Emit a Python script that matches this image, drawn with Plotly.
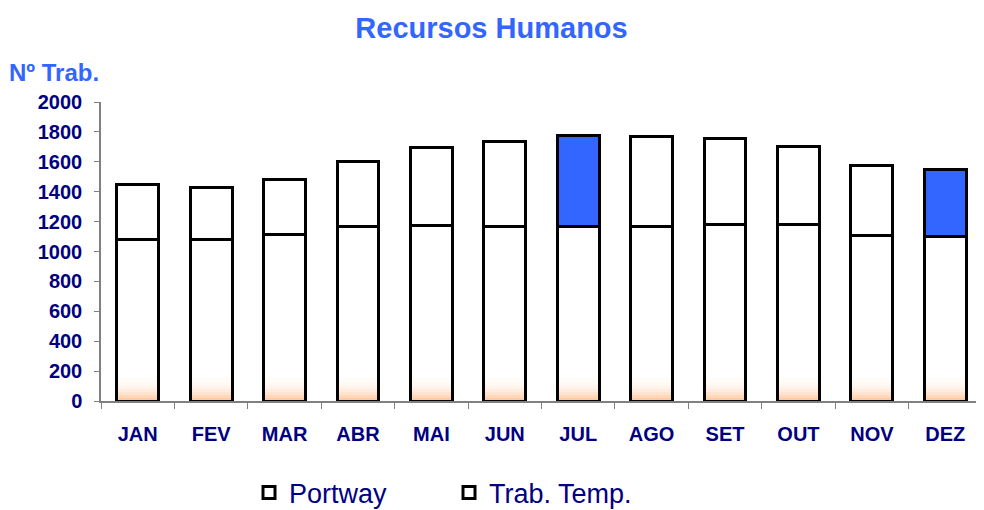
import plotly.graph_objects as go

# Data
months = ['JAN', 'FEV', 'MAR', 'ABR', 'MAI', 'JUN', 'JUL', 'AGO', 'SET', 'OUT', 'NOV', 'DEZ']
portway = [1079, 1083, 1115, 1170, 1175, 1170, 1170, 1170, 1180, 1180, 1108, 1102]
total = [1445, 1429, 1483, 1603, 1697, 1735, 1773, 1766, 1757, 1701, 1572, 1547]
trab_temp = [t - p for t, p in zip(total, portway)]
highlight = ['JUL', 'DEZ']

NAVY = '#000080'
BLUE = '#3366FF'
FONT = 'Liberation Sans, Arial, sans-serif'

# soft peach shading at the foot of each bar (styling only)
shade_levels = [1.0, 0.86, 0.72, 0.59, 0.47, 0.36, 0.26, 0.17, 0.09, 0.03]
shade_rows = [10, 30, 50, 70, 90, 110, 130, 150, 170, 190]

temp_colors = [BLUE if m in highlight else 'white' for m in months]

fig = go.Figure()

fig.add_trace(go.Heatmap(
    x=months, y=shade_rows,
    z=[[s] * len(months) for s in shade_levels],
    colorscale=[[0, 'rgba(255,255,255,0)'], [1, '#FFC9A3']],
    zmin=0, zmax=1, showscale=False, xgap=31, hoverinfo='skip',
))

fig.add_trace(go.Bar(
    x=months, y=portway, name='Portway',
    marker=dict(color='rgba(0,0,0,0)', line=dict(color='black', width=3)),
    width=0.57,
))
fig.add_trace(go.Bar(
    x=months, y=trab_temp, name='Trab. Temp.',
    marker=dict(color=temp_colors, line=dict(color='black', width=3)),
    width=0.57,
))

# the page body adds an 8px margin, so the figure is 8px smaller each way
fig.update_layout(
    width=976, height=502,
    barmode='stack',
    plot_bgcolor='white', paper_bgcolor='white',
    margin=dict(l=93, r=2, t=94, b=109, autoexpand=False),
    font=dict(family=FONT, color=NAVY),
    title=dict(text='Recursos Humanos', x=0.4954, xanchor='center', y=1 - 20 / 502, yanchor='middle',
               font=dict(family=FONT, size=29, color=BLUE, weight='bold')),
    showlegend=True,
    legend=dict(orientation='h', x=0.168, xanchor='left', yref='container', y=17 / 502,
                yanchor='middle', font=dict(family=FONT, size=27, color=NAVY),
                entrywidth=155, traceorder='normal'),
    annotations=[dict(text='Nº Trab.', xref='paper', yref='paper', x=-0.107, y=1.10,
                      xanchor='left', yanchor='middle', showarrow=False,
                      font=dict(family=FONT, size=24, color=BLUE, weight='bold'))],
)

fig.update_xaxes(
    automargin=False,
    showline=True, linecolor='#808080', linewidth=1.5,
    ticks='outside', tickson='boundaries', ticklen=6, tickcolor='#808080',
    showgrid=False, zeroline=False, ticklabelstandoff=14,
    tickfont=dict(family=FONT, size=20, color=NAVY, weight='bold'),
)
fig.update_yaxes(
    automargin=False,
    range=[0, 2000], dtick=200,
    showline=True, linecolor='#808080', linewidth=1.5,
    ticks='outside', ticklen=5, tickcolor='#808080',
    showgrid=False, zeroline=False, ticklabelstandoff=8,
    tickfont=dict(family=FONT, size=20, color=NAVY, weight='bold'),
)

fig.write_html('out.html')
